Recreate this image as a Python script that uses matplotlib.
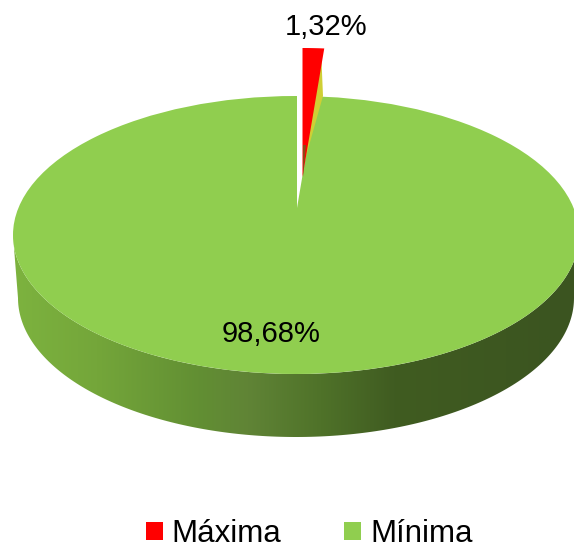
import numpy as np
import matplotlib
matplotlib.use("Agg")
import matplotlib.pyplot as plt
from matplotlib.colors import LinearSegmentedColormap
from matplotlib.patches import Ellipse, Polygon

plt.rcParams['font.family'] = ['Liberation Sans', 'DejaVu Sans']

# Data
labels = ['Máxima', 'Mínima']
values = [1.32, 98.68]
colors = ['#ff0000', '#90ce4f']

# Pixel geometry of the squashed disc
CX, CY, RX, RY = 296, 235, 283, 139
W, H = 574, 544


def ux(x):
    return (x - CX) / RX


def uy(y):
    return (CY - y) / RY


fig = plt.figure(figsize=(W / 100, H / 100), dpi=100)
ax = fig.add_axes([0, 0, 1, 1])

# Top face of the pie, apex sits above the ellipse centre because of perspective
wedges, _ = ax.pie(values, colors=colors, startangle=90, counterclock=False,
                   center=(ux(297), uy(208)), radius=1,
                   wedgeprops={'linewidth': 0, 'zorder': 3})
ax.set_aspect('auto')
ax.set_xlim(ux(0), ux(W))
ax.set_ylim(uy(H), uy(0))
ax.axis('off')

# Green slice is made oversized and clipped to the disc outline
wedges[1].set_radius(1.6)
disc = Ellipse((0, 0), 2, 2, transform=ax.transData)
wedges[1].set_clip_on(True)
wedges[1].set_clip_path(disc)

# Red slice is pulled out of the disc
wedges[0].set_center((ux(302.5), uy(177)))
wedges[0].set_radius((177 - 48) / RY)
wedges[0].set_zorder(5)

# Yellow side of the pulled slice
ax.add_patch(Polygon([(ux(321), uy(49)), (ux(323), uy(96)), (ux(305), uy(160)), (ux(304), uy(160))],
                     closed=True, facecolor='#cfcf35', edgecolor='none', zorder=4))
ax.add_patch(Polygon([(ux(303), uy(177)), (ux(306), uy(145)), (ux(303), uy(145))],
                     closed=True, facecolor='#8a4a15', edgecolor='none', zorder=6))

# Rim of the disc with a horizontal gradient
t = np.linspace(np.pi, 2 * np.pi, 200)
top_edge = np.column_stack([np.cos(t), np.sin(t)])
bot_x = 278 * np.cos(t[::-1]) / RX
bot_y = uy(298 - 139 * np.sin(t[::-1]))
rim = Polygon(np.vstack([top_edge, np.column_stack([bot_x, bot_y])]), closed=True,
              transform=ax.transData, facecolor='none', edgecolor='none')
ax.add_patch(rim)

stops = [(0.00, '#7db33f'), (0.15, '#74a63a'), (0.33, '#628f33'), (0.42, '#608436'),
         (0.55, '#4f7229'), (0.68, '#405c21'), (0.88, '#3d5720'), (1.00, '#3b5420')]
cmap = LinearSegmentedColormap.from_list('rim', stops)
grad = np.linspace(0, 1, 256).reshape(1, -1)
im = ax.imshow(grad, cmap=cmap, extent=(ux(12), ux(W), uy(437), uy(235)),
               aspect='auto', zorder=2)
im.set_clip_path(rim)
ax.set_xlim(ux(0), ux(W))
ax.set_ylim(uy(H), uy(0))

# Labels with decimal comma
ax.text(ux(326), uy(27), f"{values[0]:.2f}%".replace('.', ','), fontsize=21,
        ha='center', va='center', color='black', zorder=7)
ax.text(ux(271), uy(334), f"{values[1]:.2f}%".replace('.', ','), fontsize=21,
        ha='center', va='center', color='black', zorder=7)

fig.legend(wedges, labels, ncol=2, loc='center', bbox_to_anchor=(309 / W, 1 - 534 / H),
           frameon=False, fontsize=22.5, handlelength=0.55, handleheight=0.55,
           handletextpad=0.285, columnspacing=2.0, borderpad=0, labelcolor='black')

fig.savefig('out.png', dpi=100)
